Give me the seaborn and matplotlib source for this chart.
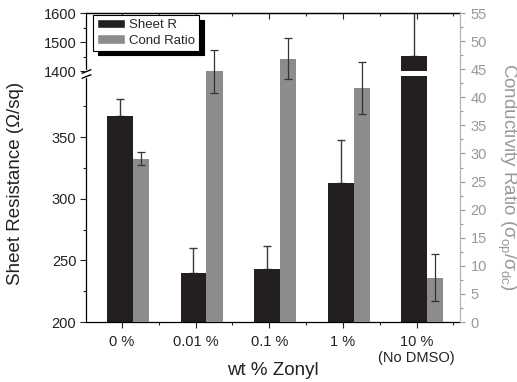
# Sheet resistance / conductivity ratio vs Zonyl content (broken left axis)

import numpy as np
import pandas as pd
import matplotlib
matplotlib.use('Agg')
from matplotlib import pyplot as plt
import matplotlib.ticker as ticker
import matplotlib.patches as mpatches
import seaborn as sns

# DATA
categories = ['0 %', '0.01 %', '0.1 %', '1 %', '10 %\n(No DMSO)']
sheet_r = [367, 240, 243, 313, 1452]
sheet_r_err = [14, 20, 19, 35, 200]
cond_ratio = [29.1, 44.6, 46.9, 41.6, 7.9]
cond_ratio_err = [1.1, 3.9, 3.7, 4.6, 4.2]

left_ticks = [200, 250, 300, 350, 1400, 1500, 1600]
left_minor = [225, 275, 325, 375, 1450, 1550]
right_ticks = list(range(0, 56, 5))

# STYLE
sns.set_style('ticks')
plt.rcParams['font.family'] = ['Liberation Sans', 'DejaVu Sans']
plt.rcParams['mathtext.fontset'] = 'custom'
plt.rcParams['mathtext.rm'] = 'Liberation Sans'
plt.rcParams['mathtext.default'] = 'regular'

black = '#231f20'
grey = '#8c8c8c'
rgrey = '#999999'


# broken axis: 200-400 and 1400-1600, squeezed gap in between
def fwd(v):
    v = np.asarray(v, dtype=float)
    return np.where(v <= 400, (v - 200) * 1.2325,
                    np.where(v >= 1400, 251 + (v - 1400) * 0.29,
                             246.5 + (v - 400) * 0.0045))


def inv(t):
    t = np.asarray(t, dtype=float)
    return np.where(t <= 246.5, 200 + t / 1.2325,
                    np.where(t >= 251, 1400 + (t - 251) / 0.29,
                             400 + (t - 246.5) / 0.0045))


pos = np.arange(len(categories))
df = pd.DataFrame({'cat': categories,
                   'x_r': pos - 0.03, 'x_c': pos + 0.255,
                   'sheet': sheet_r, 'cond': cond_ratio})

fig = plt.figure(figsize=(5.17, 3.82), dpi=100)
ax = fig.add_axes([0.1663, 0.157, 0.7234, 0.8089])
ax2 = ax.twinx()

sns.barplot(data=df, x='x_r', y='sheet', native_scale=True, orient='x',
            width=0.35, color=black, saturation=1, errorbar=None,
            linewidth=0, ax=ax)
sns.barplot(data=df, x='x_c', y='cond', native_scale=True, orient='x',
            width=0.22, color=grey, saturation=1, errorbar=None,
            linewidth=0, ax=ax2)

ax.set_yscale('function', functions=(fwd, inv))
ax.set_ylim(200, 1600)
ax2.set_ylim(0, 55)

# one-sided error bars for sheet R (behind bars), two-sided for ratio
ax.errorbar(df['x_r'], df['sheet'], yerr=[np.zeros(len(pos)), sheet_r_err],
            fmt='none', ecolor='#3a3a3a', elinewidth=1, capsize=3,
            capthick=1, zorder=0.5)
ax2.errorbar(df['x_c'], df['cond'], yerr=cond_ratio_err, fmt='none',
             ecolor='#333333', elinewidth=0.9, capsize=3, capthick=0.9,
             zorder=5)

# white gap through bars that cross the break
for p in list(ax.patches):
    if p.get_height() > 400:
        ax.add_patch(mpatches.Rectangle((p.get_x(), 400), p.get_width(), 1000,
                                        color='white', lw=0, zorder=p.get_zorder() + 0.1))

# break marks on left spine
ytr = ax.get_yaxis_transform()
ax.plot([0, 0], [400, 1400], color='white', lw=2.5, transform=ytr,
        clip_on=False, zorder=5)
for yb in (400, 1400):
    ax.plot(0, yb, marker=[(-1, -0.4), (1, 0.4)], ms=7, mew=1, color='k',
            transform=ytr, clip_on=False, zorder=6)

# x axis
ax.set_xlim(-0.49, 4.59)
ax.set_xticks(pos, categories)
ax.set_xticks(pos + 0.5, minor=True)
ax.tick_params(axis='x', which='major', direction='out', length=4, width=0.8,
               pad=5, labelsize=10.5, colors='#222222')
ax.tick_params(axis='x', which='minor', direction='out', length=2.5, width=0.8)
ax.set_xlabel('wt % Zonyl', fontsize=13.5, color='#222222')
ax.xaxis.set_label_coords(0.5, -0.13)

sec = ax.secondary_xaxis('top')
sec.set_xticks(pos, [''] * len(pos))
sec.set_xticks(pos + 0.5, minor=True)
sec.tick_params(which='major', direction='in', length=4, width=0.8)
sec.tick_params(which='minor', direction='in', length=2.5, width=0.8)

# left axis
ax.set_yticks(left_ticks)
ax.yaxis.set_major_formatter(ticker.FuncFormatter(lambda y, _: '{:g}'.format(y)))
ax.set_yticks(left_minor, minor=True)
ax.tick_params(axis='y', which='major', direction='out', length=4, width=0.8,
               pad=3, labelsize=10.5, colors='#222222')
ax.tick_params(axis='y', which='minor', direction='out', length=2.5, width=0.8)
ax.set_ylabel('Sheet Resistance (Ω/sq)', fontsize=13.5, color='#222222')
ax.yaxis.set_label_coords(-0.165, 0.45)
ax.set_xlabel('wt % Zonyl', fontsize=13.5, color='#222222')

# right axis
ax2.set_yticks(right_ticks)
ax2.yaxis.set_minor_locator(ticker.MultipleLocator(2.5))
ax2.tick_params(axis='y', which='major', direction='out', length=3.5, width=0.8,
                pad=4, labelsize=10.5, colors=rgrey)
ax2.tick_params(axis='y', which='minor', direction='out', length=2, width=0.8,
                colors=rgrey)
ax2.set_ylabel(r'Conductivity Ratio ($\sigma_{op}$/$\sigma_{dc}$)', fontsize=13.5,
               color=rgrey, rotation=270, va='bottom')
ax2.yaxis.set_label_coords(1.094, 0.468)

for s in ['left', 'top', 'bottom']:
    ax2.spines[s].set_visible(False)
ax2.spines['right'].set_color('#b4b4b4')
ax2.spines['right'].set_linewidth(0.9)
ax.spines['right'].set_visible(False)
for s in ['left', 'top', 'bottom']:
    ax.spines[s].set_visible(True)
    ax.spines[s].set_color('k')
    ax.spines[s].set_linewidth(0.9)
sec.spines['top'].set_linewidth(0.9)

handles = [mpatches.Patch(facecolor=black, label='Sheet R'),
           mpatches.Patch(facecolor=grey, label='Cond Ratio')]
leg = ax2.legend(handles=handles, loc='upper left', bbox_to_anchor=(0.019, 0.994),
                 borderaxespad=0, fancybox=False, framealpha=1, edgecolor='k',
                 shadow={'ox': 3.5, 'oy': -3.5, 'color': 'k', 'alpha': 1},
                 fontsize=9.5, handlelength=2.1, handleheight=0.7,
                 handletextpad=0.3, labelspacing=0.25, borderpad=0.3)
leg.get_frame().set_linewidth(0.8)

fig.savefig('out.png', dpi=100)
plt.close()
